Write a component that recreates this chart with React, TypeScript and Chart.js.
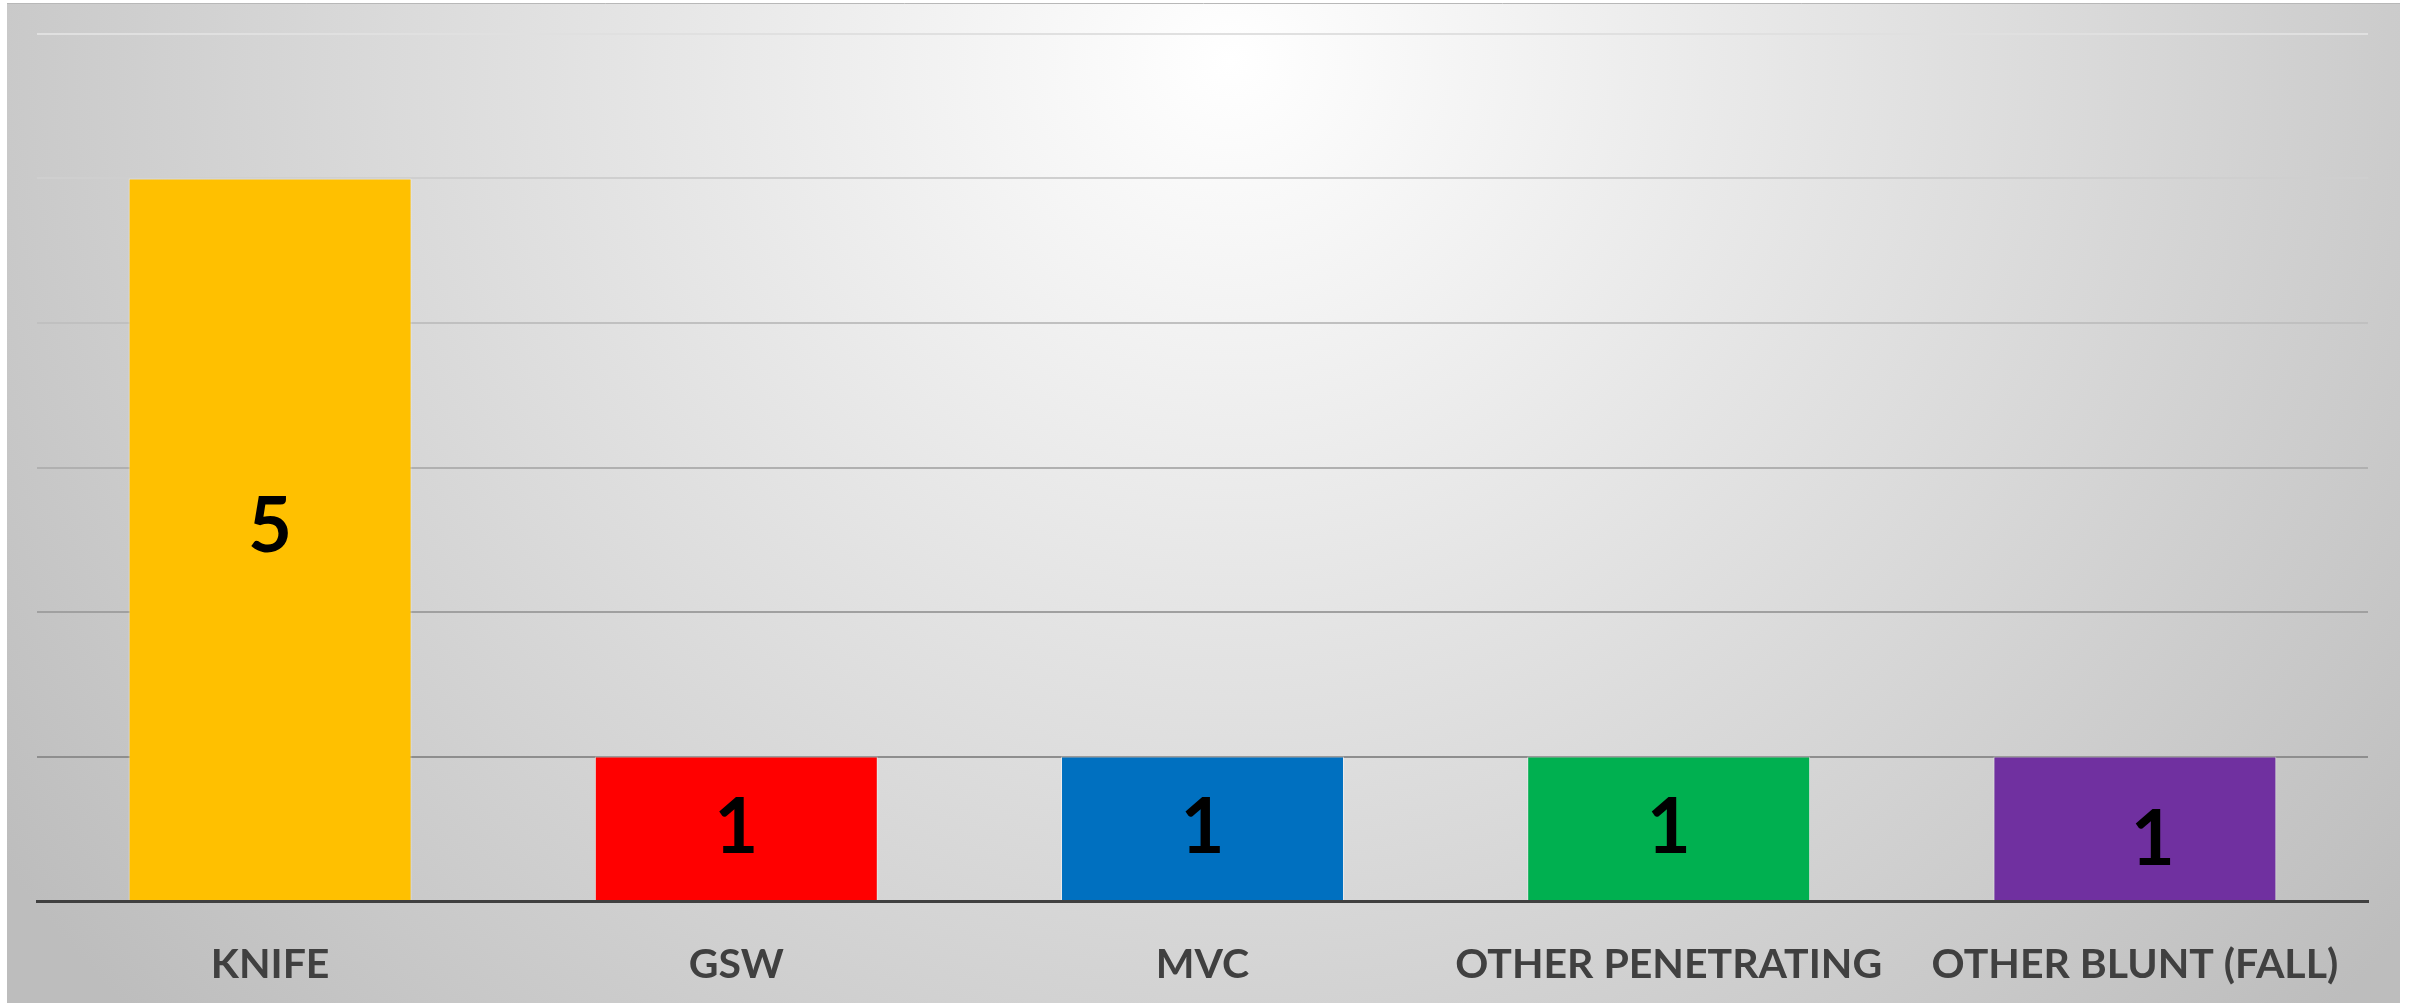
import React, { useEffect, useRef } from "react";
import { Chart, registerables } from "chart.js";

Chart.register(...registerables);

const categories = ["KNIFE", "GSW", "MVC", "OTHER PENETRATING", "OTHER BLUNT (FALL)"];
const counts = [5, 1, 1, 1, 1];
const barColors = ["#FFC000", "#FF0000", "#0070C0", "#00B050", "#7030A0"];
const yTickValues = [0, 1, 2, 3, 4, 5, 6];
const gridColors = ["#8e8e8e", "#8e8e8e", "#a0a0a0", "#b0b0b0", "#c0c0c0", "#cfcfcf", "#e0e0e0"];
const labelDx = [0, 0, 0, 0, 18];
const labelDy = [-12, 0, 0, 0, 12];

const backgroundPlugin = {
  id: "bgGradient",
  beforeDraw(chart: any) {
    const { ctx, width, height } = chart;
    ctx.save();
    const cx = 1223;
    const cy = 57;
    const rx = 1500;
    const ry = 1400;
    ctx.translate(cx, cy);
    ctx.scale(1, ry / rx);
    const g = ctx.createRadialGradient(0, 0, 0, 0, 0, rx);
    g.addColorStop(0, "#ffffff");
    g.addColorStop(1, "#bdbdbd");
    ctx.fillStyle = g;
    ctx.fillRect(-cx, -cy * (rx / ry), width, height * (rx / ry) + 10);
    ctx.restore();
    ctx.save();
    ctx.strokeStyle = "#b8b8b8";
    ctx.lineWidth = 1;
    ctx.beginPath();
    ctx.moveTo(0, 0.5);
    ctx.lineTo(width, 0.5);
    ctx.stroke();
    ctx.restore();
  },
};

const valueLabelPlugin = {
  id: "valueLabels",
  afterDatasetsDraw(chart: any) {
    const { ctx } = chart;
    const meta = chart.getDatasetMeta(0);
    ctx.save();
    ctx.font = "bold 76px Lato";
    ctx.fillStyle = "#000000";
    ctx.textAlign = "center";
    ctx.textBaseline = "middle";
    meta.data.forEach((bar: any, i: number) => {
      const v = chart.data.datasets[0].data[i];
      const yMid = (bar.y + bar.base) / 2;
      ctx.fillText(String(v), bar.x + labelDx[i], yMid + labelDy[i]);
    });
    ctx.restore();
  },
};

export default function App() {
  const ref = useRef<HTMLCanvasElement | null>(null);
  useEffect(() => {
    if (!ref.current) return;
    const chart = new Chart(ref.current, {
      type: "bar",
      data: {
        labels: categories,
        datasets: [
          {
            data: counts,
            backgroundColor: barColors,
            borderColor: "rgba(255,255,255,0.45)",
            borderWidth: 1,
            categoryPercentage: 1,
            barPercentage: 0.607,
          },
        ],
      },
      options: {
        responsive: false,
        animation: false,
        maintainAspectRatio: false,
        layout: { padding: { left: 30, right: 32, top: 31, bottom: 0 } },
        plugins: {
          legend: { display: false },
          tooltip: { enabled: false },
        },
        scales: {
          x: {
            grid: { display: false, drawTicks: false },
            border: { display: true, color: "#404040", width: 3 },
            afterFit: (axis: any) => {
              axis.height = 102;
            },
            ticks: {
              color: "#404040",
              padding: 39,
              font: { family: "Lato", weight: "bold", size: 41, lineHeight: 1.2 },
              maxRotation: 0,
              autoSkip: false,
            },
          },
          y: {
            min: 0,
            max: 6,
            afterBuildTicks: (axis: any) => {
              axis.ticks = yTickValues.map((v) => ({ value: v }));
            },
            ticks: { display: false },
            border: { display: false },
            grid: {
              drawTicks: false,
              lineWidth: 2,
              color: (c: any) => gridColors[c.tick ? c.tick.value : 0] || "#b0b0b0",
            },
          },
        },
      },
      plugins: [backgroundPlugin, valueLabelPlugin],
    });
    return () => chart.destroy();
  }, []);
  return (
    <div style={{ position: "absolute", left: 7, top: 3, width: 2393, height: 1000 }}>
      <canvas ref={ref} width={2393} height={1000} style={{ width: 2393, height: 1000, display: "block" }} />
    </div>
  );
}
